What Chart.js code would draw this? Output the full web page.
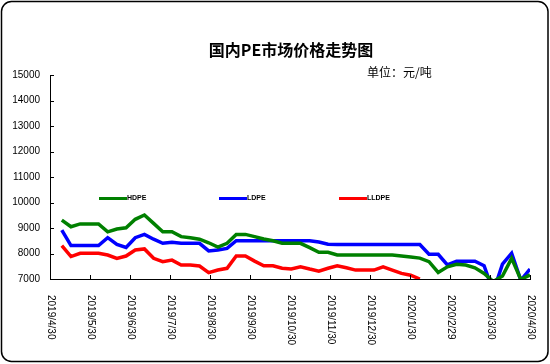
<!DOCTYPE html>
<html>
<head>
<meta charset="utf-8">
<script src="https://cdn.jsdelivr.net/npm/chart.js@4.4.0/dist/chart.umd.min.js"></script>
<style>
    body { margin: 0; background: #fff; }
    canvas { display: block; }
</style>
</head>
<body>
<canvas id="pe-chart" width="550" height="364"></canvas>
<script>
// weekly quote dates
const dates = [
    "2019/5/9", "2019/5/16", "2019/5/23", "2019/5/30", "2019/6/6", "2019/6/13", "2019/6/20", "2019/6/27",
    "2019/7/4", "2019/7/11", "2019/7/18", "2019/7/25", "2019/8/1", "2019/8/8", "2019/8/15", "2019/8/22", "2019/8/29",
    "2019/9/5", "2019/9/12", "2019/9/19", "2019/9/26", "2019/10/3", "2019/10/10", "2019/10/17", "2019/10/24", "2019/10/31",
    "2019/11/7", "2019/11/14", "2019/11/21", "2019/11/28", "2019/12/5", "2019/12/12", "2019/12/19", "2019/12/26",
    "2020/1/2", "2020/1/9", "2020/1/16", "2020/1/23", "2020/1/30", "2020/2/6", "2020/2/13", "2020/2/20", "2020/2/27",
    "2020/3/5", "2020/3/12", "2020/3/19", "2020/3/26", "2020/4/2", "2020/4/9", "2020/4/16", "2020/4/23", "2020/4/30"
];

const hdpe = [
    9310, 9050, 9160, 9160, 9160, 8850, 8960, 9010, 9340, 9510, 9180, 8850, 8850,
    8660, 8620, 8560, 8420, 8250, 8400, 8750, 8750, 8660, 8570, 8500, 8400, 8400,
    8400, 8230, 8050, 8050, 7940, 7940, 7940, 7940, 7940, 7940, 7940, 7900, 7860,
    7820, 7680, 7260, 7480, 7580, 7550, 7440, 7220, 6900, 7120, 7810, 6980, 7160
];
const ldpe = [
    8920, 8310, 8310, 8310, 8310, 8620, 8360, 8240, 8620, 8750, 8560, 8400, 8440,
    8400, 8400, 8400, 8100, 8140, 8200, 8500, 8500, 8500, 8500, 8500, 8500, 8500,
    8500, 8500, 8450, 8360, 8350, 8350, 8350, 8350, 8350, 8350, 8350, 8350, 8350,
    8350, 7970, 7970, 7550, 7700, 7700, 7700, 7520, 6500, 7580, 8010, 6950, 7390
];
const lldpe = [
    8310, 7880, 8010, 8010, 8010, 7940, 7810, 7900, 8140, 8180, 7810, 7680, 7740,
    7550, 7550, 7510, 7250, 7350, 7420, 7900, 7900, 7700, 7520, 7520, 7420, 7390,
    7480, 7390, 7310, 7420, 7520, 7440, 7350, 7350, 7350, 7480, 7350, 7220, 7150,
    7000, null, null, null, null, null, null, null, null, null, null, null, null
];

const seriesNames = ["HDPE", "LDPE", "LLDPE"];
const seriesColors = ["#008000", "#0000ff", "#ff0000"];

const monthLabels = [
    "2019/4/30", "2019/5/30", "2019/6/30", "2019/7/30", "2019/8/30", "2019/9/30", "2019/10/30",
    "2019/11/30", "2019/12/30", "2020/1/30", "2020/2/29", "2020/3/30", "2020/4/30"
];
const yTicks = [7000, 8000, 9000, 10000, 11000, 12000, 13000, 14000, 15000];

const titleText = "国内PE市场价格走势图";
const unitText = "单位：元/吨";

// date string -> months after 2019/4/30
function toMonths(s) {
    const [y, m, d] = s.split("/").map(Number);
    const days = (Date.UTC(y, m - 1, d) - Date.UTC(2019, 3, 30)) / 86400000;
    return days / 30.5;
}

const xs = dates.map(toMonths);
const toPoints = (vals) => vals.map((v, i) => ({ x: xs[i], y: v }));

const numFont = '"Liberation Sans", Arial, sans-serif';
const cjkFont = '"Noto Sans CJK SC", sans-serif';

// frame, title, legend, tick marks and rotated date labels
const decorPlugin = {
    id: "decor",
    afterDraw(chart) {
        const ctx = chart.ctx;
        const xScale = chart.scales.x;
        const yScale = chart.scales.y;
        const area = chart.chartArea;

        ctx.save();

        // rounded outer frame
        ctx.strokeStyle = "#000";
        ctx.lineWidth = 1.5;
        ctx.beginPath();
        ctx.roundRect(1.5, 1.5, 546.5, 360, 10);
        ctx.stroke();

        // title + unit
        ctx.fillStyle = "#000";
        ctx.textBaseline = "middle";
        ctx.textAlign = "center";
        ctx.font = "bold 16px " + cjkFont;
        ctx.fillText(titleText, 291, 50);
        ctx.textAlign = "left";
        ctx.font = "12px " + cjkFont;
        ctx.fillText(unitText, 367, 72);

        // inward tick marks
        ctx.lineWidth = 1;
        ctx.beginPath();
        yTicks.forEach((v) => {
            const py = Math.round(yScale.getPixelForValue(v)) + 0.5;
            ctx.moveTo(area.left, py);
            ctx.lineTo(area.left + 4, py);
        });
        monthLabels.forEach((l, i) => {
            const px = Math.round(xScale.getPixelForValue(i)) + 0.5;
            ctx.moveTo(px, area.bottom);
            ctx.lineTo(px, area.bottom - 4);
        });
        ctx.stroke();

        // date labels, reading top to bottom
        ctx.font = "10px " + numFont;
        ctx.textAlign = "left";
        ctx.textBaseline = "middle";
        monthLabels.forEach((l, i) => {
            const px = xScale.getPixelForValue(i);
            ctx.save();
            ctx.translate(px + 1, area.bottom + 16);
            ctx.rotate(Math.PI / 2);
            ctx.fillText(l, 0, 0);
            ctx.restore();
        });

        // legend inside the plot
        const legendX = [99, 219, 339];
        ctx.font = "bold 7px " + numFont;
        seriesNames.forEach((name, i) => {
            ctx.strokeStyle = seriesColors[i];
            ctx.lineWidth = 3;
            ctx.beginPath();
            ctx.moveTo(legendX[i], 198.5);
            ctx.lineTo(legendX[i] + 28, 198.5);
            ctx.stroke();
            ctx.fillStyle = "#000";
            ctx.fillText(name, legendX[i] + 28, 198.5);
        });

        ctx.restore();
    }
};

const ctx = document.getElementById("pe-chart").getContext("2d");
new Chart(ctx, {
    type: "line",
    data: {
        datasets: seriesNames.map((name, i) => ({
            label: name,
            data: toPoints([hdpe, ldpe, lldpe][i]),
            borderColor: seriesColors[i],
            backgroundColor: seriesColors[i],
            borderWidth: 3.5,
            pointRadius: 0,
            tension: 0,
            spanGaps: false,
            clip: 0
        }))
    },
    options: {
        responsive: false,
        animation: false,
        events: [],
        layout: { padding: { top: 75, left: 0, right: 20, bottom: 0 } },
        plugins: {
            legend: { display: false },
            title: { display: false },
            tooltip: { enabled: false }
        },
        scales: {
            x: {
                type: "linear",
                min: 0,
                max: 12,
                afterBuildTicks: (scale) => {
                    scale.ticks = monthLabels.map((l, i) => ({ value: i }));
                },
                afterFit: (scale) => { scale.height = 85; },
                grid: { display: false, drawTicks: false },
                border: { display: true, color: "#000", width: 1 },
                ticks: { display: false }
            },
            y: {
                min: 7000,
                max: 15000,
                afterBuildTicks: (scale) => {
                    scale.ticks = yTicks.map((v) => ({ value: v }));
                },
                afterFit: (scale) => { scale.width = 50; },
                grid: { display: false, drawTicks: false },
                border: { display: true, color: "#000", width: 1 },
                ticks: {
                    color: "#000",
                    padding: 10,
                    font: { family: numFont, size: 10 },
                    callback: (v) => String(v)
                }
            }
        }
    },
    plugins: [decorPlugin]
});
</script>
</body>
</html>
